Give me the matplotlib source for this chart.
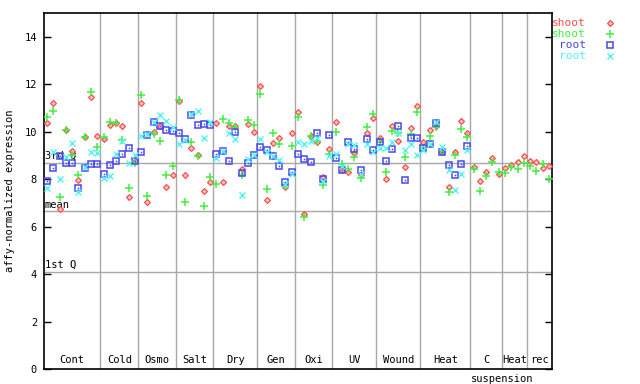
import matplotlib
matplotlib.use("Agg")
import matplotlib.pyplot as plt
import numpy as np

# groups of conditions along x (number of samples in each)
group_names = ['Cont', 'Cold', 'Osmo', 'Salt', 'Dry', 'Gen', 'Oxi', 'UV',
               'Wound', 'Heat', 'C', 'Heat', 'rec']
group_sizes = [9, 6, 6, 6, 7, 6, 6, 7, 7, 8, 5, 4, 4]

shoot_a = [10.35, 11.2, 6.73, 10.07, 9.19, 7.96, 9.76, 11.48, 9.82,
           9.68, 10.3, 10.35, 10.22, 7.23, 8.78,
           11.2, 7.04, 9.97, 10.24, 7.65, 8.17,
           11.28, 8.17, 9.31, 9.01, 7.49, 7.9,
           10.35, 7.87, 10.25, 10.25, 8.43, 10.34, 9.97,
           11.93, 7.11, 9.51, 9.72, 7.65, 9.93,
           10.84, 6.52, 9.82, 9.55, 8.1, 9.27,
           10.39, 8.37, 8.32, 9.09, 8.18, 9.93, 10.56,
           9.72, 7.99, 10.24, 9.59, 8.5, 10.15, 11.08,
           9.55, 10.06, 10.24, 9.15, 7.67, 9.14, 10.45, 9.93,
           8.5, 7.91, 8.3, 8.88, 8.2,
           8.46, 8.58, 8.71, 8.98,
           8.77, 8.71, 8.46, 8.55]
shoot_b = [10.6, 10.87, 7.23, 10.07, 9.0, 8.18, 9.76, 11.66, 9.35,
           9.79, 10.4, 10.36, 9.66, 7.61, 8.68,
           11.55, 7.29, 9.91, 9.59, 8.16, 8.57,
           11.34, 7.05, 9.55, 8.97, 6.85, 8.09,
           7.78, 10.54, 10.38, 10.21, 8.17, 10.49, 10.3,
           11.58, 7.57, 9.93, 9.5, 7.7, 9.38,
           10.63, 6.42, 9.82, 9.6, 7.75, 9.06,
           9.98, 8.62, 8.41, 8.92, 8.03, 10.18, 10.73,
           9.58, 8.29, 10.04, 9.93, 8.93, 9.89, 10.82,
           9.3, 9.8, 10.2, 9.13, 7.47, 9.02, 10.11, 9.78,
           8.41, 7.49, 8.13, 8.71, 8.29,
           8.26, 8.5, 8.43, 8.67,
           8.57, 8.33, 8.64, 8.0]
nan = np.nan
root_a = [7.92, 8.47, 8.96, 8.67, 8.67, 7.62, 8.47, 8.62, 8.62,
          8.22, 8.59, 8.75, 9.05, 9.31, 8.77,
          9.13, 9.85, 10.42, 10.24, 10.06, 10.02,
          9.93, 9.68, 10.72, 10.27, 10.33, 10.27,
          9.05, 9.19, 8.75, 10.0, 8.24, 8.67, 9.0,
          9.34, 9.24, 8.96, 8.54, 7.87, 8.29,
          9.05, 8.83, 8.71, 9.95, 8.0, 9.85,
          8.88, 8.37, 9.55, 9.26, 8.37, 9.68, 9.21,
          9.55, 8.75, 9.27, 10.24, 7.95, 9.72, 9.72,
          9.3, 9.47, 10.35, 9.13, 8.6, 8.18, 8.62, 9.38,
          nan, nan, nan, nan, nan,
          nan, nan, nan, nan,
          nan, nan, nan, nan]
root_b = [7.61, 9.13, 7.99, 8.95, 9.51, 7.45, 8.5, 9.13, 9.09,
          8.06, 8.12, 9.05, 9.6, 8.67, 9.0,
          9.81, 9.92, 10.4, 10.7, 10.43, 10.21,
          9.47, 9.65, 10.75, 10.87, 9.73, 10.39,
          8.91, 9.19, 9.93, 9.68, 7.32, 8.83, 9.0,
          9.68, 9.16, 8.98, 8.81, 7.8, 8.2,
          9.55, 9.47, 9.61, 9.72, 7.92, 8.97,
          9.05, 8.57, 9.5, 9.44, 8.23, 9.5, 9.13,
          9.31, 9.31, 9.55, 9.93, 9.21, 9.47, 9.0,
          9.23, 9.5, 10.42, 9.35, 8.4, 7.53, 8.2, 9.24,
          nan, nan, nan, nan, nan,
          nan, nan, nan, nan,
          nan, nan, nan, nan]

# reference lines (quartiles / mean of the whole array)
ref_names = ['3rd Q', 'mean', '1st Q']
ref_values = [8.68, 6.64, 4.09]

red = '#ff4c4c'
green = '#40f040'
blue = '#4848f0'
cyan = '#50f4f4'
grid_col = '#a8a8a8'
mono = 'DejaVu Sans Mono'

fig = plt.figure(figsize=(6.4, 3.84), dpi=100)
ax = fig.add_axes([44 / 640, 15 / 384, 508 / 640, 356 / 384])

n = len(shoot_a)
x = np.arange(n) + 0.5
bounds = np.cumsum(group_sizes)
starts = bounds - np.array(group_sizes)

for b in bounds[:-1]:
    ax.axvline(b, color=grid_col, lw=1, zorder=1)
for v in ref_values:
    ax.axhline(v, color=grid_col, lw=1, zorder=1)
for name, v in zip(ref_names, ref_values):
    ax.text(0.1, v + 0.08, name, fontsize=7.5, family=mono, ha='left', va='bottom')

red_st = dict(marker='D', ms=3.0, mfc='#ffc4c4', mec=red, mew=0.9)
green_st = dict(marker='+', ms=5.5, mec=green, mew=1.1)
blue_st = dict(marker='s', ms=4.2, mfc='none', mec=blue, mew=1.1)
cyan_st = dict(marker='x', ms=4.2, mec=cyan, mew=1.0)

ax.plot(x, shoot_a, ls='none', zorder=3, **red_st)
ax.plot(x, shoot_b, ls='none', zorder=3, **green_st)
ax.plot(x, root_a, ls='none', zorder=3, **blue_st)
ax.plot(x, root_a, ls='none', marker='s', ms=0.8, mfc=blue, mec=blue, mew=0.3, zorder=3)
ax.plot(x, root_b, ls='none', zorder=3, **cyan_st)

for name, s, size in zip(group_names, starts, group_sizes):
    ax.text(s + size / 2, 0.15, name, fontsize=7.5, family=mono, ha='center', va='bottom')
ax.text(bounds[10], -0.2, 'suspension', fontsize=7.5, family=mono, ha='center', va='top',
        clip_on=False)

ax.set_xlim(0, n)
ax.set_ylim(0, 15)
ax.set_xticks([])
ax.set_yticks(np.arange(0, 16, 2))
ax.set_yticklabels([str(t) for t in range(0, 16, 2)], family=mono, fontsize=7.5)
ax.tick_params(axis='y', direction='in', length=5, width=1, right=True, pad=5)
for sp in ax.spines.values():
    sp.set_linewidth(1.2)
ax.set_ylabel('affy-normalized expression', family=mono, fontsize=7.5, labelpad=7)

# legend drawn outside on the right
leg_labels = ['shoot', 'shoot', 'root', 'root']
leg_colors = [red, green, blue, cyan]
leg_styles = [red_st, green_st, blue_st, cyan_st]
for k, (lab, col, st) in enumerate(zip(leg_labels, leg_colors, leg_styles)):
    yk = 1 - (10 + 11 * k) / 356
    ax.text(1.066, yk, lab, color=col, fontsize=8, family=mono, ha='right', va='center',
            transform=ax.transAxes, clip_on=False)
    ax.plot([1.1135], [yk], ls='none', transform=ax.transAxes, clip_on=False, **st)

fig.savefig('out.png', dpi=100)
